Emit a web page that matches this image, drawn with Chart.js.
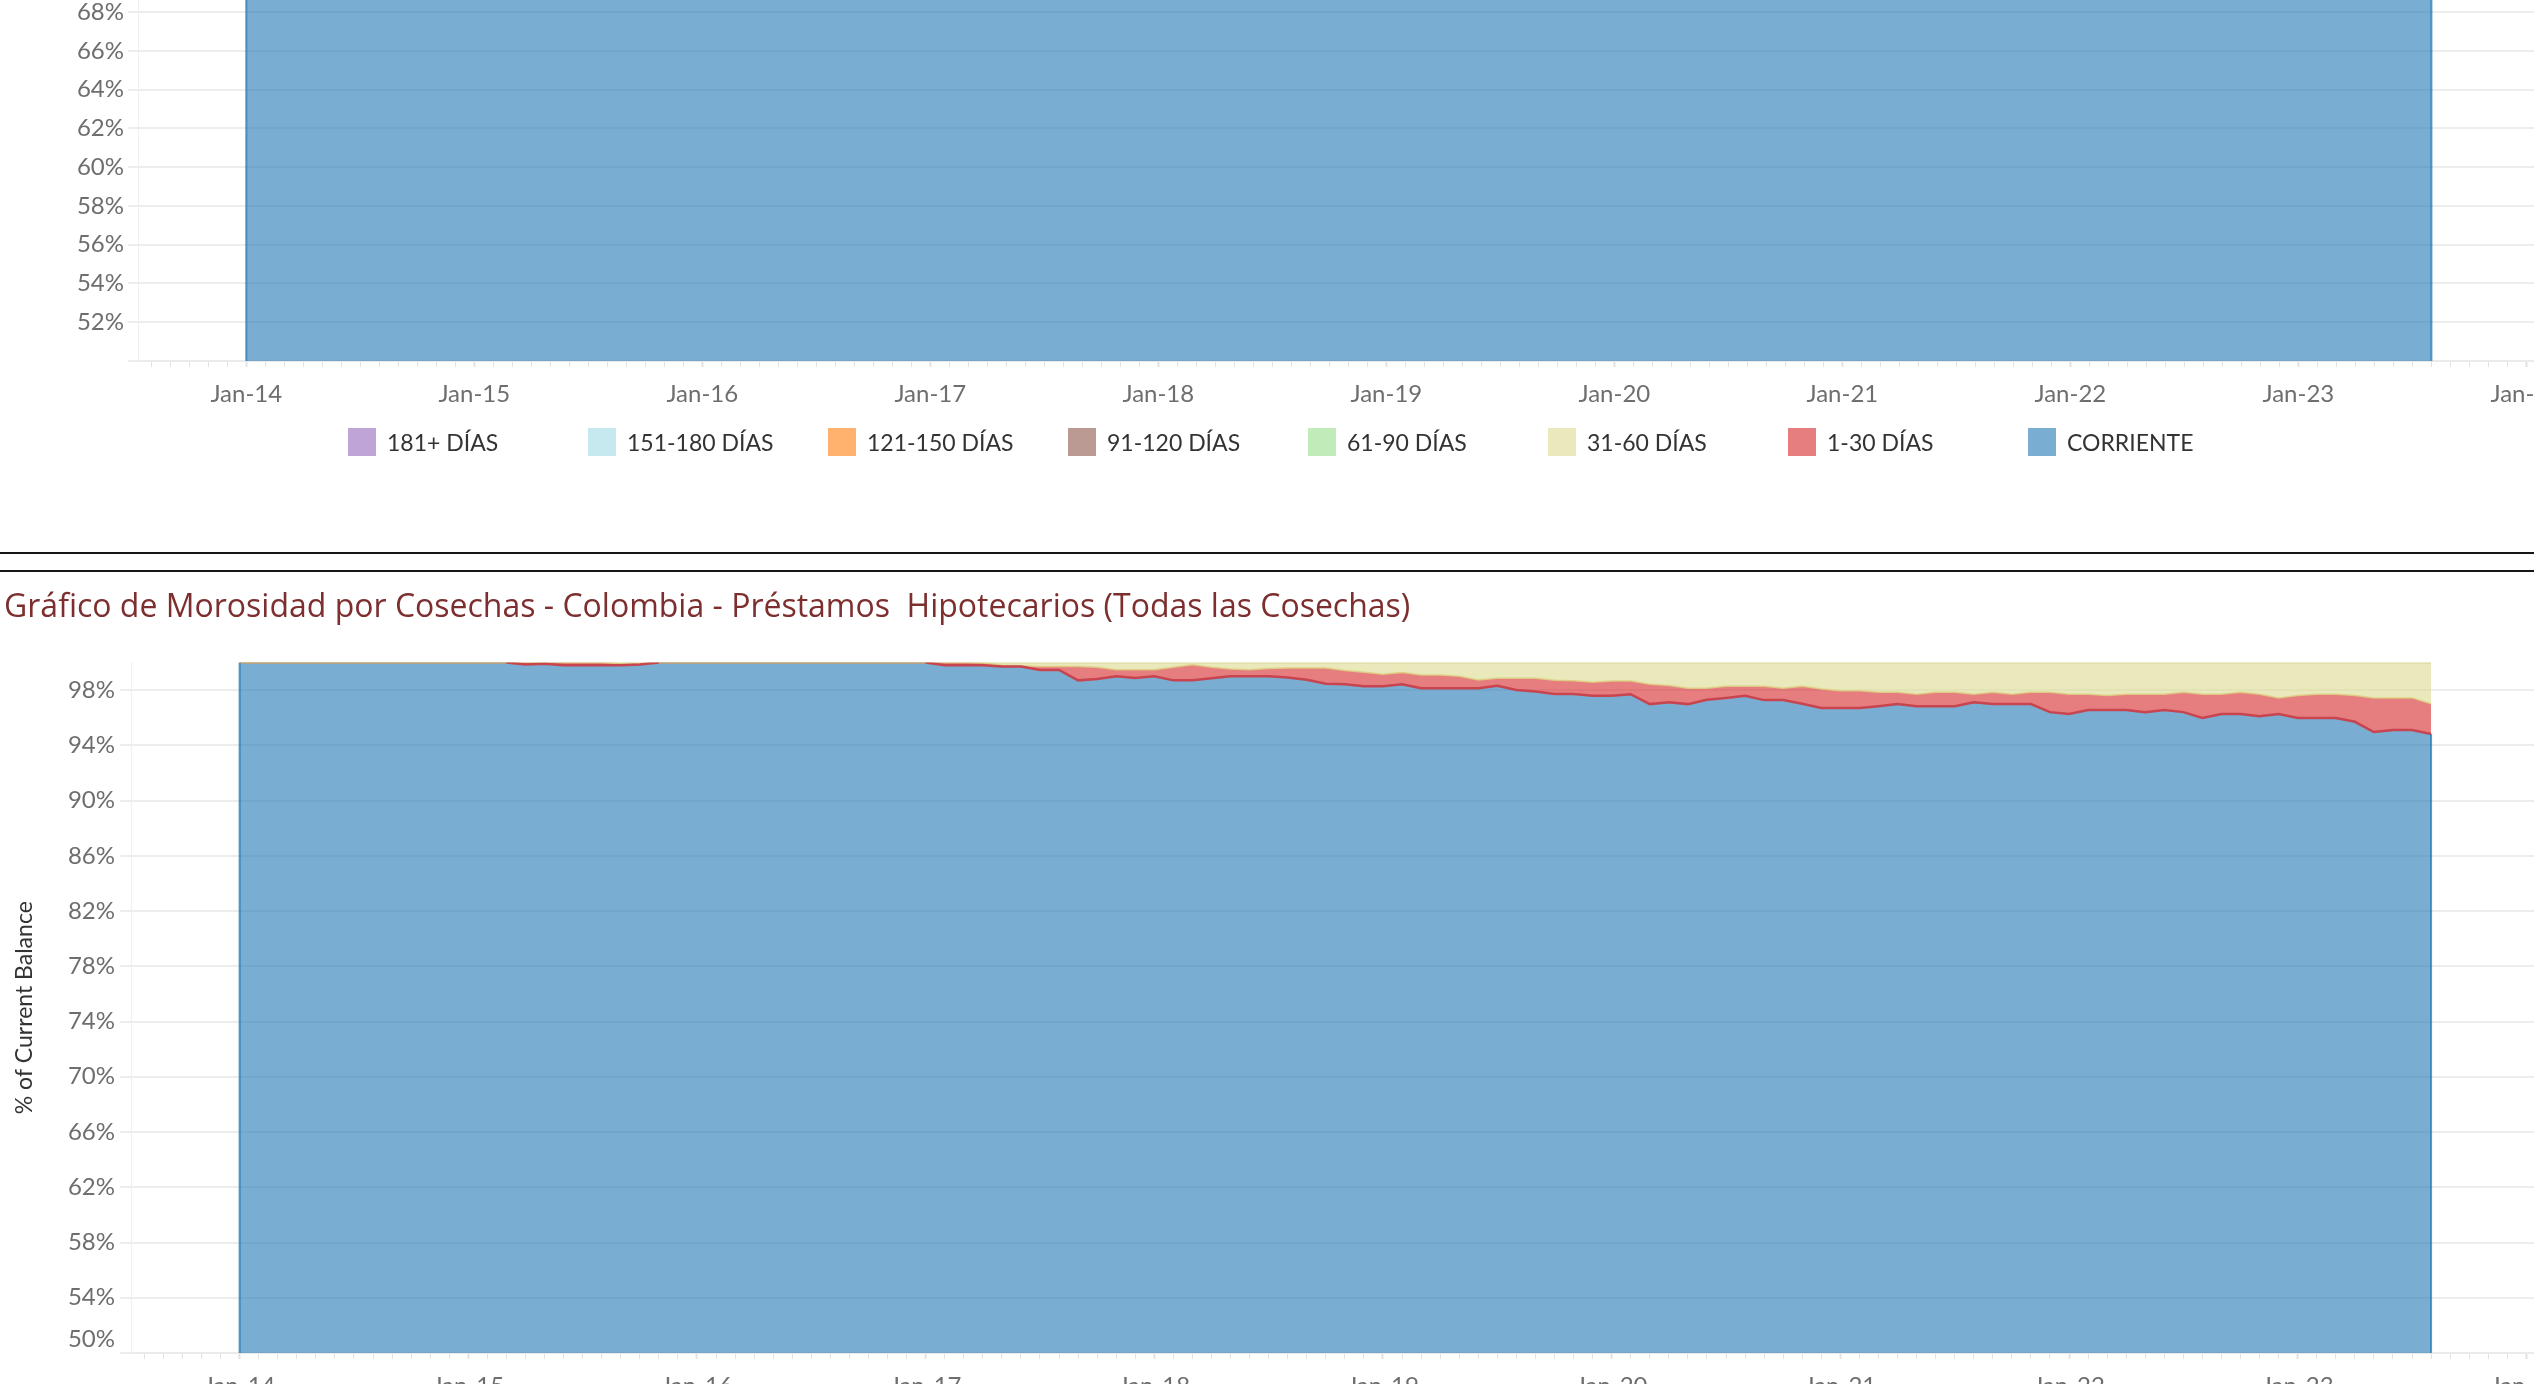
<!DOCTYPE html>
<html>
<head>
<meta charset="utf-8">
<script src="https://cdn.jsdelivr.net/npm/chart.js@4.4.0/dist/chart.umd.min.js"></script>
<style>
  html, body { margin: 0; padding: 0; background: #fff; overflow: hidden; width: 2534px; height: 1384px; }
  #topWrap { position: absolute; left: 0; top: -660px; width: 2534px; height: 1100px; }
  #botWrap { position: absolute; left: 0; top: 580px; width: 2534px; height: 870px; }
  .rule { position: absolute; left: 0; width: 2534px; height: 2px; background: #161616; }
  #legend { position: absolute; left: 0; top: 428px; width: 2534px; height: 28px; font-family: Lato, sans-serif; font-size: 23px; color: #333; }
  .item { position: absolute; top: 0; height: 28px; display: flex; align-items: center; white-space: nowrap; }
  .sw { width: 28px; height: 28px; margin-right: 11px; }
</style>
</head>
<body>
<div id="topWrap"><canvas id="topChart"></canvas></div>
<div id="legend"></div>
<div class="rule" style="top:552px"></div>
<div class="rule" style="top:570px"></div>
<div id="botWrap"><canvas id="botChart"></canvas></div>

<script>
// legend order as shown (top of stack first)
var categories = ['181+ DÍAS', '151-180 DÍAS', '121-150 DÍAS', '91-120 DÍAS', '61-90 DÍAS', '31-60 DÍAS', '1-30 DÍAS', 'CORRIENTE'];
var baseColors = ['148,103,189', '158,218,229', '255,127,14', '140,86,75', '152,223,138', '219,219,141', '214,39,40', '31,119,180'];

var xTickLabels = ['Jan-14', 'Jan-15', 'Jan-16', 'Jan-17', 'Jan-18', 'Jan-19', 'Jan-20', 'Jan-21', 'Jan-22', 'Jan-23', 'Jan-24'];
var yLowLabel = '50%';
var chartTitle = 'Gráfico de Morosidad por Cosechas - Colombia - Préstamos  Hipotecarios (Todas las Cosechas)';
var yTitle = '% of Current Balance';

// monthly, Jan-14 .. Aug-23 (116 months), % of balance
var corriente = [
  100, 100, 100, 100, 100, 100, 100, 100, 100, 100, 100, 100,
  100, 100, 100, 99.85, 99.9, 99.8, 99.8, 99.8, 99.8, 99.85, 100, 100,
  100, 100, 100, 100, 100, 100, 100, 100, 100, 100, 100, 100,
  100, 99.8, 99.8, 99.8, 99.7, 99.7, 99.45, 99.45, 98.7, 98.8, 99.0, 98.87,
  99.0, 98.7, 98.7, 98.85, 99.0, 99.0, 99.0, 98.9, 98.75, 98.45, 98.42, 98.27,
  98.27, 98.42, 98.13, 98.13, 98.13, 98.13, 98.3, 98.0, 97.9, 97.72, 97.72, 97.58,
  97.58, 97.7, 96.98, 97.12, 96.98, 97.29, 97.43, 97.58, 97.27, 97.27, 97.0, 96.7,
  96.7, 96.7, 96.83, 96.98, 96.83, 96.83, 96.83, 97.12, 96.98, 96.98, 96.98, 96.4,
  96.26, 96.55, 96.55, 96.55, 96.4, 96.55, 96.4, 95.97, 96.26, 96.26, 96.1, 96.26,
  95.97, 95.97, 95.97, 95.7, 94.96, 95.1, 95.1, 94.82
];
var dias1_30 = [
  0, 0, 0, 0, 0, 0, 0, 0, 0, 0, 0, 0,
  0, 0, 0, 0.15, 0.1, 0.2, 0.2, 0.2, 0.1, 0.05, 0, 0,
  0, 0, 0, 0, 0, 0, 0, 0, 0, 0, 0, 0,
  0, 0.2, 0.2, 0.15, 0.1, 0.05, 0.25, 0.25, 1.0, 0.85, 0.47, 0.6,
  0.47, 0.95, 1.13, 0.8, 0.52, 0.47, 0.55, 0.7, 0.85, 1.15, 1.0, 1.01,
  0.87, 0.84, 0.96, 0.96, 0.87, 0.6, 0.55, 0.85, 0.95, 0.98, 0.96, 0.98,
  1.08, 0.96, 1.44, 1.2, 1.15, 0.84, 0.84, 0.69, 1.0, 0.86, 1.27, 1.38,
  1.24, 1.24, 1.01, 0.86, 0.87, 1.01, 1.01, 0.58, 0.86, 0.72, 0.86, 1.44,
  1.44, 1.15, 1.05, 1.15, 1.3, 1.15, 1.44, 1.73, 1.44, 1.58, 1.6, 1.17,
  1.63, 1.73, 1.73, 1.9, 2.47, 2.33, 2.33, 2.18
];
var dias31_60 = [
  0, 0, 0, 0, 0, 0, 0, 0, 0, 0, 0, 0,
  0, 0, 0, 0, 0, 0, 0, 0, 0.1, 0.1, 0, 0,
  0, 0, 0, 0, 0, 0, 0, 0, 0, 0, 0, 0,
  0, 0, 0, 0.05, 0.2, 0.25, 0.3, 0.3, 0.3, 0.35, 0.53, 0.53,
  0.53, 0.35, 0.17, 0.35, 0.48, 0.53, 0.45, 0.4, 0.4, 0.4, 0.58, 0.72,
  0.86, 0.74, 0.91, 0.91, 1.0, 1.27, 1.15, 1.15, 1.15, 1.3, 1.32, 1.44,
  1.34, 1.34, 1.58, 1.68, 1.87, 1.87, 1.73, 1.73, 1.73, 1.87, 1.73, 1.92,
  2.06, 2.06, 2.16, 2.16, 2.3, 2.16, 2.16, 2.3, 2.16, 2.3, 2.16, 2.16,
  2.3, 2.3, 2.4, 2.3, 2.3, 2.3, 2.16, 2.3, 2.3, 2.16, 2.3, 2.57,
  2.4, 2.3, 2.3, 2.4, 2.57, 2.57, 2.57, 3.0
];
// the later buckets stay at zero in this chart
var dias61_90 = new Array(116).fill(0);
var dias91_120 = new Array(116).fill(0);
var dias121_150 = new Array(116).fill(0);
var dias151_180 = new Array(116).fill(0);
var dias181 = new Array(116).fill(0);

// stacking order, bottom first
var stackSeries = [corriente, dias1_30, dias31_60, dias61_90, dias91_120, dias121_150, dias151_180, dias181];

var tickColor = '#6e6e6e';
var gridColor = '#ededed';
var tickFont = { family: 'Lato', size: 24 };

// legend (html, built from the category list)
var legendEl = document.getElementById('legend');
for (var i = 0; i < categories.length; i++) {
  var it = document.createElement('div');
  it.className = 'item';
  it.style.left = (348 + 240 * i) + 'px';
  var sw = document.createElement('div');
  sw.className = 'sw';
  sw.style.background = 'rgba(' + baseColors[i] + ',0.6)';
  it.appendChild(sw);
  it.appendChild(document.createTextNode(categories[i]));
  legendEl.appendChild(it);
}

function toPoints(arr) {
  var pts = [];
  for (var m = 0; m < arr.length; m++) pts.push({ x: m, y: arr[m] });
  return pts;
}

function buildDatasets() {
  var sets = [];
  for (var k = 0; k < stackSeries.length; k++) {
    var ci = categories.length - 1 - k;
    var ds = {
      label: categories[ci],
      data: toPoints(stackSeries[k]),
      stack: 'mora',
      fill: k === 0 ? 'start' : '-1',
      backgroundColor: 'rgba(' + baseColors[ci] + ',0.6)',
      borderWidth: 0,
      pointRadius: 0,
      tension: 0
    };
    if (k === 1) {
      ds.borderWidth = 1.5;
      ds.borderColor = 'rgba(222,205,130,0.9)';
    } else if (k === 2) {
      ds.borderWidth = 2;
      ds.borderColor = '#dcd79c';
    }
    sets.push(ds);
  }
  // edge of the CORRIENTE area, kept in its own stack so it sits on the same values
  sets.push({
    label: 'edge',
    data: toPoints(corriente),
    stack: 'edge',
    fill: false,
    order: -1,
    borderWidth: 2.5,
    borderColor: '#c8444f',
    pointRadius: 0,
    tension: 0,
    segment: {
      borderColor: function (ctx) {
        return (ctx.p0.parsed.y >= 100 && ctx.p1.parsed.y >= 100) ? '#c9a27a' : '#c8444f';
      }
    }
  });
  return sets;
}

// thin vertical border at both ends of the CORRIENTE area
var areaEnds = {
  id: 'areaEnds',
  afterDatasetsDraw: function (chart) {
    var xs = chart.scales.x, ys = chart.scales.y, ctx = chart.ctx;
    var last = corriente.length - 1;
    ctx.save();
    ctx.beginPath();
    ctx.rect(chart.chartArea.left, chart.chartArea.top, chart.chartArea.right - chart.chartArea.left, chart.chartArea.bottom - chart.chartArea.top);
    ctx.clip();
    ctx.strokeStyle = 'rgba(31,119,180,0.75)';
    ctx.lineWidth = 2;
    ctx.beginPath();
    ctx.moveTo(xs.getPixelForValue(0), ys.getPixelForValue(corriente[0]));
    ctx.lineTo(xs.getPixelForValue(0), ys.bottom);
    ctx.moveTo(xs.getPixelForValue(last), ys.getPixelForValue(corriente[last]));
    ctx.lineTo(xs.getPixelForValue(last), ys.bottom);
    ctx.stroke();
    ctx.restore();
  }
};

function xScale(axisHeight) {
  return {
    type: 'linear',
    min: -5.7,
    max: 120.4,
    grid: {
      drawOnChartArea: false,
      drawTicks: true,
      tickLength: 6,
      color: '#e2e2e2',
      tickWidth: function (c) { return c.tick && c.tick.value % 12 === 0 ? 2 : 1; }
    },
    border: { display: true, color: '#ebebeb', width: 2 },
    ticks: {
      stepSize: 1,
      includeBounds: false,
      autoSkip: false,
      maxRotation: 0,
      padding: 13,
      color: tickColor,
      font: tickFont,
      callback: function (v) {
        if (v >= 0 && v % 12 === 0) return xTickLabels[v / 12];
        return '';
      }
    },
    afterFit: function (s) { s.height = axisHeight; s.paddingLeft = 0; s.paddingRight = 0; }
  };
}

// top chart (only its lower part is in view)
new Chart(document.getElementById('topChart'), {
  type: 'line',
  data: { datasets: buildDatasets() },
  plugins: [areaEnds],
  options: {
    responsive: true,
    maintainAspectRatio: false,
    animation: false,
    devicePixelRatio: 1,
    layout: { padding: { top: 52, bottom: 19, left: 0, right: 0 } },
    plugins: { legend: { display: false }, tooltip: { enabled: false } },
    scales: {
      x: xScale(60),
      y: {
        stacked: true,
        min: 50,
        max: 100,
        grid: { color: gridColor, lineWidth: 2, tickLength: 10 },
        border: { display: true, color: '#f0f0f0', width: 1 },
        ticks: {
          stepSize: 2,
          padding: 4,
          color: tickColor,
          font: tickFont,
          callback: function (v) { return v === 50 ? '' : v + '%'; }
        },
        afterFit: function (s) { s.width = 138; s.paddingTop = 0; s.paddingBottom = 0; }
      }
    }
  }
});

// bottom axis label sits a little above the axis floor, like the original
var lowLabelPlugin = {
  id: 'lowLabel',
  afterDraw: function (chart) {
    var y = chart.scales.y;
    var ctx = chart.ctx;
    ctx.save();
    ctx.font = '24px Lato';
    ctx.fillStyle = tickColor;
    ctx.textAlign = 'right';
    ctx.textBaseline = 'middle';
    ctx.fillText(yLowLabel, y.right - 16, y.getPixelForValue(50) - 14);
    ctx.restore();
  }
};

new Chart(document.getElementById('botChart'), {
  type: 'line',
  data: { datasets: buildDatasets() },
  plugins: [lowLabelPlugin, areaEnds],
  options: {
    responsive: true,
    maintainAspectRatio: false,
    animation: false,
    devicePixelRatio: 1,
    layout: { padding: { top: 0, bottom: 37, left: 4, right: 0 } },
    plugins: {
      legend: { display: false },
      tooltip: { enabled: false },
      title: {
        display: true,
        text: chartTitle,
        align: 'start',
        color: '#7d2f2f',
        font: { family: 'Open Sans', size: 32, weight: 'normal' },
        padding: { top: 9, bottom: 35 }
      }
    },
    scales: {
      x: xScale(60),
      y: {
        stacked: true,
        min: 50,
        max: 100,
        grid: { color: gridColor, lineWidth: 2, tickLength: 11 },
        border: { display: true, color: '#f0f0f0', width: 1 },
        title: {
          display: true,
          text: yTitle,
          color: '#333',
          font: { family: 'Lato', size: 23 },
          padding: { top: 7, bottom: 0 }
        },
        ticks: {
          stepSize: 2,
          padding: 5,
          color: tickColor,
          font: tickFont,
          callback: function (v) { return (v !== 50 && (v - 50) % 4 === 0) ? v + '%' : ''; }
        },
        afterFit: function (s) { s.width = 127; s.paddingTop = 0; s.paddingBottom = 0; }
      }
    }
  }
});
</script>
</body>
</html>
